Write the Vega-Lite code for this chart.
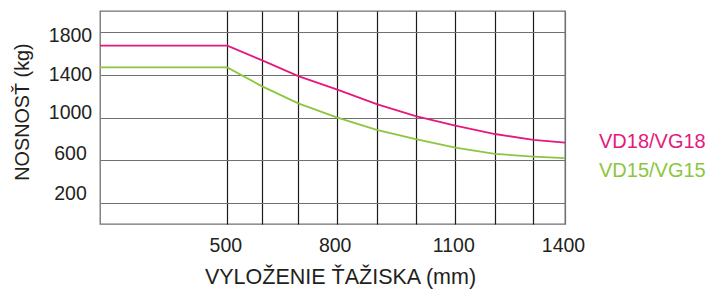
{
  "$schema": "https://vega.github.io/schema/vega-lite/v6.json",
  "width": 465,
  "height": 213,
  "autosize": {"type": "none"},
  "padding": {"left": 100, "top": 11, "right": 142, "bottom": 65},
  "background": "white",
  "config": {
    "view": {"stroke": "#707070", "strokeWidth": 1.3},
    "font": "Liberation Sans"
  },
  "datasets": {
    "curves": [
      {"series": "VD18/VG18", "mm": 0, "kg": 1675},
      {"series": "VD18/VG18", "mm": 500, "kg": 1675},
      {"series": "VD18/VG18", "mm": 600, "kg": 1538},
      {"series": "VD18/VG18", "mm": 700, "kg": 1389},
      {"series": "VD18/VG18", "mm": 800, "kg": 1264},
      {"series": "VD18/VG18", "mm": 900, "kg": 1126},
      {"series": "VD18/VG18", "mm": 1000, "kg": 1014},
      {"series": "VD18/VG18", "mm": 1100, "kg": 923},
      {"series": "VD18/VG18", "mm": 1200, "kg": 845},
      {"series": "VD18/VG18", "mm": 1300, "kg": 789},
      {"series": "VD18/VG18", "mm": 1400, "kg": 764},
      {"series": "VD15/VG15", "mm": 0, "kg": 1470},
      {"series": "VD15/VG15", "mm": 500, "kg": 1470},
      {"series": "VD15/VG15", "mm": 600, "kg": 1295},
      {"series": "VD15/VG15", "mm": 700, "kg": 1133},
      {"series": "VD15/VG15", "mm": 800, "kg": 1002},
      {"series": "VD15/VG15", "mm": 900, "kg": 883},
      {"series": "VD15/VG15", "mm": 1000, "kg": 796},
      {"series": "VD15/VG15", "mm": 1100, "kg": 717},
      {"series": "VD15/VG15", "mm": 1200, "kg": 658},
      {"series": "VD15/VG15", "mm": 1300, "kg": 633},
      {"series": "VD15/VG15", "mm": 1400, "kg": 618}
    ],
    "labels": [
      {"series": "VD18/VG18", "mm": 1400, "kg": 766},
      {"series": "VD15/VG15", "mm": 1400, "kg": 501}
    ]
  },
  "layer": [
    {
      "data": {"name": "curves"},
      "mark": {"type": "line", "strokeWidth": 1.8, "interpolate": "linear"},
      "encoding": {
        "x": {
          "field": "mm",
          "type": "quantitative",
          "scale": {
            "domain": [0, 500, 600, 700, 800, 900, 1000, 1100, 1200, 1300, 1400],
            "range": [0, 127.3, 161.7, 198.3, 236.7, 276.7, 315.7, 355.3, 395, 433.3, 465],
            "nice": false,
            "zero": false
          },
          "axis": {
            "values": [500, 600, 700, 800, 900, 1000, 1100, 1200, 1300, 1400],
            "format": "d",
            "grid": true,
            "gridColor": {"condition": {"test": "datum.value == 1400", "value": "#707070"}, "value": "#1a1a1a"},
            "gridWidth": 1.2,
            "ticks": false,
            "tickSize": 0,
            "domain": false,
            "labelExpr": "(datum.value - 500) % 300 == 0 ? datum.label : ''",
            "labelFont": "Liberation Sans",
            "labelFontSize": 19.5,
            "labelColor": "#231f20",
            "labelPadding": 12,
            "labelOffset": -2,
            "labelFlush": false,
            "labelOverlap": false,
            "title": "VYLOŽENIE ŤAŽISKA (mm)",
            "titleFont": "Liberation Sans",
            "titleFontSize": 21.5,
            "titleFontWeight": "normal",
            "titleColor": "#231f20",
            "titleX": 240,
            "titleY": 42,
            "titleBaseline": "top",
            "titleAlign": "center"
          }
        },
        "y": {
          "field": "kg",
          "type": "quantitative",
          "scale": {"domain": [0, 2000], "nice": false},
          "axis": {
            "values": [200, 400, 600, 800, 1000, 1200, 1400, 1600, 1800],
            "format": "d",
            "grid": true,
            "gridColor": "#707070",
            "gridWidth": 1.2,
            "ticks": false,
            "tickSize": 0,
            "domain": false,
            "labelExpr": "(datum.value / 200) % 2 == 1 ? datum.label : ''",
            "labelFont": "Liberation Sans",
            "labelFontSize": 19.5,
            "labelColor": "#231f20",
            "labelAlign": "center",
            "labelBaseline": "middle",
            "labelPadding": 30,
            "labelOverlap": false,
            "labelOffset": {
              "condition": [
                {"test": "datum.value == 1800", "value": 3},
                {"test": "datum.value == 1400", "value": 0},
                {"test": "datum.value == 1000", "value": -5.5},
                {"test": "datum.value == 600", "value": -7}
              ],
              "value": -9.5
            },
            "title": "NOSNOSŤ (kg)",
            "titleFont": "Liberation Sans",
            "titleFontSize": 19.8,
            "titleFontWeight": "normal",
            "titleColor": "#231f20",
            "titleX": -68,
            "titleY": 100.5,
            "titleAlign": "center"
          }
        },
        "color": {
          "field": "series",
          "type": "nominal",
          "scale": {"domain": ["VD18/VG18", "VD15/VG15"], "range": ["#e5197d", "#8cc63f"]},
          "legend": null
        }
      }
    },
    {
      "data": {"name": "labels"},
      "mark": {"type": "text", "align": "left", "baseline": "middle", "dx": 34, "fontSize": 20, "font": "Liberation Sans"},
      "encoding": {
        "x": {"field": "mm", "type": "quantitative"},
        "y": {"field": "kg", "type": "quantitative"},
        "text": {"field": "series"},
        "color": {"field": "series", "type": "nominal", "legend": null}
      }
    }
  ]
}
